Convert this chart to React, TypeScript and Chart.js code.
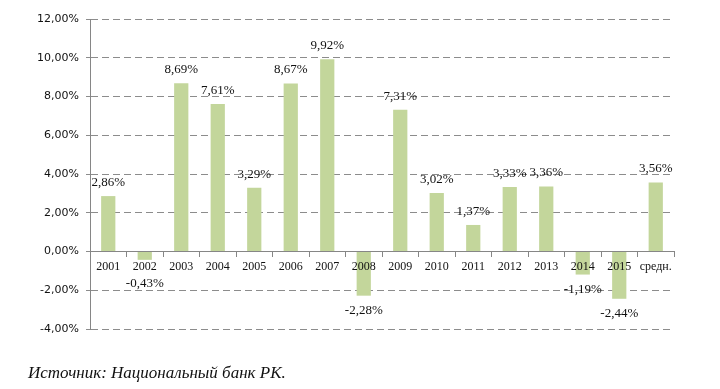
import React, { useEffect, useRef } from "react";
import { Chart, registerables } from "chart.js";

Chart.register(...registerables);

const categories = [
  "2001", "2002", "2003", "2004", "2005", "2006", "2007", "2008",
  "2009", "2010", "2011", "2012", "2013", "2014", "2015", "средн.",
];
const values = [
  2.86, -0.43, 8.69, 7.61, 3.29, 8.67, 9.92, -2.28,
  7.31, 3.02, 1.37, 3.33, 3.36, -1.19, -2.44, 3.56,
];
const yTicks = [-4, -2, 0, 2, 4, 6, 8, 10, 12];
const sourceText = "Источник: Национальный банк РК.";

const fmt = (v: number) => v.toFixed(2).replace(".", ",") + "%";

const valueLabels = {
  id: "valueLabels",
  afterDatasetsDraw(chart: any) {
    const ctx = chart.ctx;
    const meta = chart.getDatasetMeta(0);
    const zero = chart.scales.y.getPixelForValue(0);
    ctx.save();
    ctx.font = "13px 'Liberation Serif'";
    ctx.fillStyle = "#111";
    ctx.textAlign = "center";
    ctx.textBaseline = "middle";
    meta.data.forEach((bar: any, i: number) => {
      const v = values[i];
      const y = v >= 0 ? bar.y - 13.5 : Math.max(bar.y + 15, zero + 32);
      ctx.fillText(fmt(v), bar.x, y);
    });
    ctx.restore();
  },
};

export default function App() {
  const ref = useRef<HTMLCanvasElement | null>(null);

  useEffect(() => {
    if (!ref.current) return;
    const chart = new Chart(ref.current, {
      type: "bar",
      data: {
        labels: categories,
        datasets: [
          {
            data: values,
            backgroundColor: "#c3d69b",
            borderWidth: 0,
            barPercentage: 0.39,
            categoryPercentage: 1,
          },
        ],
      },
      options: {
        responsive: false,
        animation: false,
        devicePixelRatio: 1,
        layout: { padding: { left: 0, right: 46, top: 19, bottom: 60 } },
        plugins: { legend: { display: false }, tooltip: { enabled: false } },
        scales: {
          x: {
            position: { y: 0 } as any,
            grid: {
              drawOnChartArea: false,
              drawTicks: true,
              tickLength: 5,
              color: "#868686",
              offset: true,
              z: 1,
            },
            border: { display: true, color: "#868686", width: 1, z: 1 },
            ticks: {
              font: { family: "'Liberation Serif'", size: 12 },
              color: "#111",
              padding: 3,
              maxRotation: 0,
              autoSkip: false,
              z: 1,
            },
          },
          y: {
            min: -4,
            max: 12,
            afterBuildTicks: (s: any) => {
              s.ticks = yTicks.map((v) => ({ value: v }));
            },
            afterFit: (s: any) => {
              s.width = 90;
            },
            grid: {
              color: "#8c8c8c",
              tickLength: 4,
              drawTicks: true,
            },
            border: { display: true, color: "#868686", dash: [7, 4] as any },
            ticks: {
              font: { family: "'DejaVu Sans'", size: 11 },
              color: "#111",
              padding: 7,
              callback: (v: any) => fmt(Number(v)),
            },
          },
        },
      },
      plugins: [valueLabels],
    });
    return () => chart.destroy();
  }, []);

  return (
    <div style={{ position: "absolute", left: 0, top: 0, width: 720, height: 389, background: "#fff" }}>
      <canvas ref={ref} width={720} height={389} style={{ position: "absolute", left: 0, top: 0 }} />
      <div
        style={{
          position: "absolute",
          left: 28,
          top: 363,
          fontFamily: "'Liberation Serif'",
          fontStyle: "italic",
          fontSize: 17,
          color: "#111",
          whiteSpace: "nowrap",
        }}
      >
        {sourceText}
      </div>
    </div>
  );
}
